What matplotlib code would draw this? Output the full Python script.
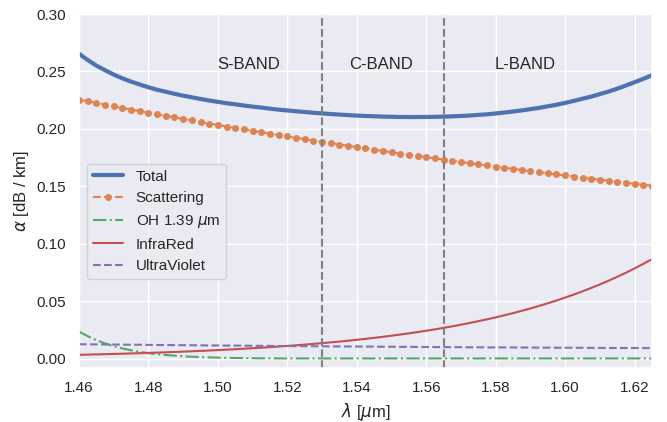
import numpy as np
import matplotlib
matplotlib.use('Agg')
import matplotlib.pyplot as plt
import seaborn as sns

sns.set()
plt.rcParams['font.family'] = ['Liberation Sans', 'DejaVu Sans']

# wavelength grid (um)
wl = np.linspace(1.46, 1.625, 67)

# Rayleigh scattering loss (dB/km)
scattering = [
    0.2255, 0.2241, 0.2226, 0.2212, 0.2197, 0.2183, 0.2169, 0.2155, 0.2141,
    0.2127, 0.2114, 0.2100, 0.2087, 0.2074, 0.2060, 0.2047, 0.2034,
    0.2021, 0.2009, 0.1996, 0.1984, 0.1972, 0.1959, 0.1947, 0.1935,
    0.1923, 0.1911, 0.1899, 0.1887, 0.1876, 0.1864, 0.1853, 0.1841,
    0.1830, 0.1819, 0.1808, 0.1797, 0.1786, 0.1775, 0.1765, 0.1754,
    0.1744, 0.1733, 0.1723, 0.1712, 0.1702, 0.1692, 0.1682, 0.1672,
    0.1662, 0.1652, 0.1643, 0.1633, 0.1623, 0.1614, 0.1604, 0.1595,
    0.1586, 0.1577, 0.1567, 0.1558, 0.1549, 0.1540, 0.1532, 0.1523,
    0.1514, 0.1505,
]
oh = [
    0.0237, 0.0197, 0.0162, 0.0134, 0.0110, 0.0090, 0.0074, 0.0061, 0.0049,
    0.0040, 0.0033, 0.0027, 0.0022, 0.0018, 0.0015, 0.0012, 0.0010,
    0.0008, 0.0007, 0.0006, 0.0005, 0.0004, 0.0004, 0.0003, 0.0003,
    0.0003, 0.0003, 0.0003, 0.0003, 0.0003, 0.0003, 0.0003, 0.0003,
    0.0003, 0.0003, 0.0003, 0.0003, 0.0003, 0.0003, 0.0003, 0.0003,
    0.0003, 0.0003, 0.0003, 0.0003, 0.0003, 0.0003, 0.0003, 0.0003,
    0.0003, 0.0003, 0.0003, 0.0003, 0.0003, 0.0003, 0.0003, 0.0003,
    0.0003, 0.0003, 0.0003, 0.0003, 0.0003, 0.0003, 0.0003, 0.0003,
    0.0003, 0.0003,
]
infrared = [
    0.00347, 0.00364, 0.00383, 0.00402, 0.00422, 0.00443, 0.00465, 0.00488,
    0.00513, 0.00539, 0.00566, 0.00594, 0.00623, 0.00654, 0.00687, 0.00721,
    0.00758, 0.00796, 0.00835, 0.00877, 0.00921, 0.00967, 0.01015, 0.01066,
    0.01119, 0.01175, 0.01234, 0.01296, 0.01360, 0.01428, 0.01499, 0.01574,
    0.01653, 0.01736, 0.01822, 0.01913, 0.02009, 0.02109, 0.02215, 0.02326,
    0.02441, 0.02563, 0.02691, 0.02825, 0.02967, 0.03115, 0.03271, 0.03434,
    0.03606, 0.03786, 0.03975, 0.04174, 0.04382, 0.04601, 0.04831, 0.05072,
    0.05326, 0.05592, 0.05871, 0.06164, 0.06472, 0.06795, 0.07135, 0.07491,
    0.07866, 0.08259, 0.08672,
]
ultraviolet = [
    0.0127, 0.0126, 0.0125, 0.0125, 0.0124, 0.0123, 0.0122, 0.0122, 0.0121, 0.0120,
    0.0120, 0.0119, 0.0118, 0.0118, 0.0117, 0.0116, 0.0116, 0.0115, 0.0115, 0.0114,
    0.0113, 0.0113, 0.0112, 0.0111, 0.0111, 0.0110, 0.0110, 0.0109, 0.0109, 0.0108,
    0.0108, 0.0107, 0.0107, 0.0106, 0.0106, 0.0105, 0.0105, 0.0104, 0.0104, 0.0103,
    0.0103, 0.0102, 0.0102, 0.0101, 0.0101, 0.0100, 0.0100, 0.0099, 0.0099, 0.0099,
    0.0099, 0.0098, 0.0098, 0.0097, 0.0097, 0.0096, 0.0096, 0.0096, 0.0096, 0.0095,
    0.0095, 0.0094, 0.0094, 0.0094, 0.0094, 0.0093, 0.0093,
]

bands = ['S-BAND', 'C-BAND', 'L-BAND']
band_centers = [1.509, 1.547, 1.5885]
band_edges = [1.53, 1.565]

total = np.array(scattering) + np.array(oh) + np.array(infrared) + np.array(ultraviolet)

fig = plt.figure(figsize=(6.67, 4.22), dpi=100)
ax = fig.add_axes([0.1184, 0.128, 0.8591, 0.8388])

ax.plot(wl, total, '-', color='C0', lw=3, label='Total')
ax.plot(wl, scattering, '--', marker='o', ms=4, color='C1', lw=1.5, label='Scattering')
ax.plot(wl, oh, '-.', color='C2', lw=1.5, label=r'OH 1.39 $\mu$m')
ax.plot(wl, infrared, '-', color='C3', lw=1.5, label='InfraRed')
ax.plot(wl, ultraviolet, '--', color='C4', lw=1.5, label='UltraViolet')

for e in band_edges:
    ax.axvline(e, color='gray', ls='--', lw=1.5)
for name, c in zip(bands, band_centers):
    ax.text(c, 0.256, name, ha='center', va='center', fontsize=12, color='0.15')

ax.set_xlim(1.46, 1.625)
ax.set_ylim(-0.008, 0.30)
ax.set_xticks(np.arange(1.46, 1.621, 0.02))
ax.set_yticks(np.arange(0, 0.301, 0.05))
ax.set_xlabel(r'$\lambda$ [$\mu$m]')
ax.set_ylabel(r'$\alpha$ [dB / km]')
ax.legend(loc='center left', bbox_to_anchor=(0.0, 0.414))

fig.savefig('out.png', dpi=100)
